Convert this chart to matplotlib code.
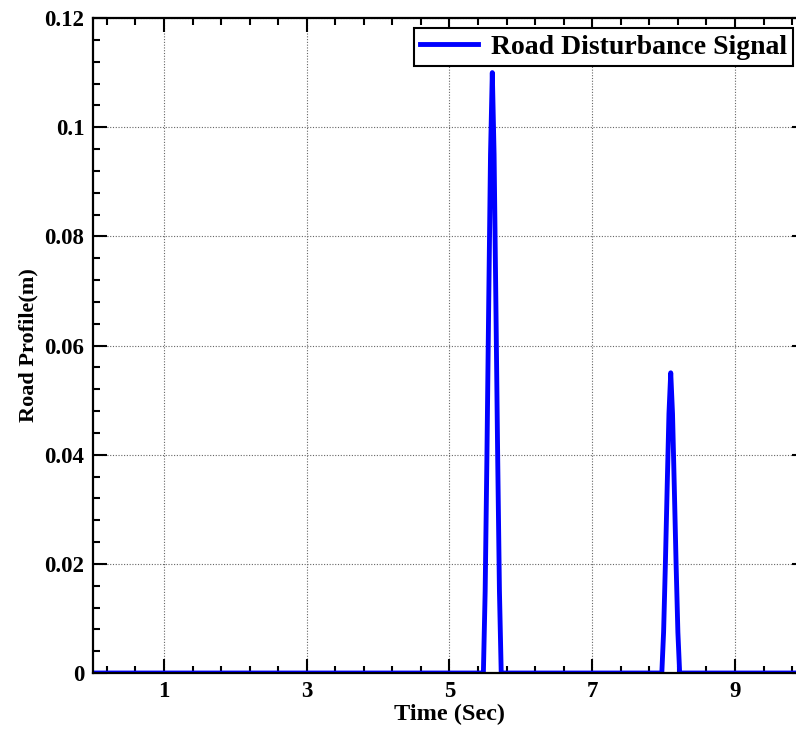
import matplotlib.pyplot as plt
from matplotlib.ticker import FixedLocator, MultipleLocator

# values
time_s = [0.0,
          5.475, 5.500, 5.525, 5.550, 5.575, 5.600, 5.625, 5.650, 5.675, 5.700, 5.725,
          7.975, 8.000, 8.025, 8.050, 8.075, 8.100, 8.125, 8.150, 8.175, 8.200, 8.225,
          10.0]
road_m = [0.0,
          0.0, 0.0150, 0.040, 0.068, 0.0950, 0.110, 0.0950, 0.068, 0.040, 0.0150, 0.0,
          0.0, 0.0075, 0.020, 0.034, 0.0475, 0.055, 0.0475, 0.034, 0.020, 0.0075, 0.0,
          0.0]
x_ticks = [1, 3, 5, 7, 9]
y_ticks = [0, 0.02, 0.04, 0.06, 0.08, 0.1, 0.12]
y_tick_labels = ["0", "0.02", "0.04", "0.06", "0.08", "0.1", "0.12"]

plt.rcParams["font.family"] = ["Liberation Serif", "DejaVu Serif"]
plt.rcParams["font.weight"] = "bold"

W, H = 796, 731
fig = plt.figure(figsize=(W / 100, H / 100), dpi=100)
# axes runs a little past the right edge, as in the cropped reference
ax = fig.add_axes([92.6 / W, 1 - 673 / H, 713.75 / W, 655 / H])

ax.plot(time_s, road_m, color="#0000ff", lw=3.5, label="Road Disturbance Signal")

ax.set_xlim(0, 10)
ax.set_ylim(0, 0.12)
ax.set_xticks(x_ticks)
ax.set_yticks(y_ticks)
ax.set_yticklabels(y_tick_labels)
ax.xaxis.set_minor_locator(FixedLocator([0.2 + 0.4 * i for i in range(25)]))
ax.yaxis.set_minor_locator(MultipleLocator(0.004))

ax.tick_params(which="both", direction="in", top=True, right=True, width=1.5,
               labelsize=16.5, pad=6)
ax.tick_params(which="major", length=10)
ax.tick_params(which="minor", length=5)
for lbl in ax.get_xticklabels() + ax.get_yticklabels():
    lbl.set_fontweight("bold")
for sp in ax.spines.values():
    sp.set_linewidth(1.6)

ax.grid(True, which="major", linestyle=(0, (1, 1.5)), color="#666666", lw=0.8)

ax.set_xlabel("Time (Sec)", fontsize=17.5, fontweight="bold", labelpad=1)
ax.set_ylabel("Road Profile(m)", fontsize=16, fontweight="bold", labelpad=4)

leg = ax.legend(loc="upper right", bbox_to_anchor=((793 - 92.6) / 713.75, (673 - 28) / 655),
                prop={"size": 20, "weight": "bold"}, fancybox=False, framealpha=1,
                edgecolor="black", handlelength=2.1, handletextpad=0.45,
                borderpad=0.22, borderaxespad=0)
leg.get_frame().set_linewidth(1.5)

fig.savefig("out.png", dpi=100)
